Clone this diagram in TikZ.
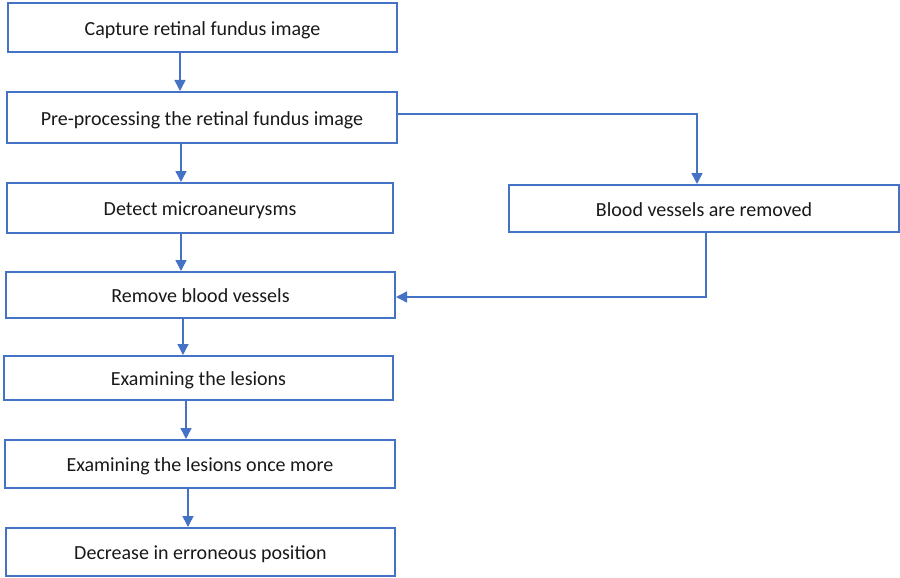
\documentclass[tikz,border=0pt]{standalone}
\usepackage{fontspec}
\setmainfont{Carlito}
\usetikzlibrary{arrows.meta,calc}
\definecolor{bl}{HTML}{4472C4}
\newcommand{\lowtxt}[1]{\raisebox{-2pt}{#1}}
\tikzset{
  box/.style={draw=bl, line width=2pt, rectangle, inner sep=0pt, text depth=0pt, font=\fontsize{20}{24}\selectfont, text=black!90},
  arr/.style={draw=bl, line width=1.5pt, -{Triangle[length=11pt,width=11pt]}},
}
\begin{document}
\begin{tikzpicture}[x=1pt,y=-1pt]
\useasboundingbox[fill=white] (0,0) rectangle (900,578);
\node[box, minimum width=389pt, minimum height=49pt] (b1) at (202.5,27.5) {\lowtxt{Capture retinal fundus image}};
\node[box, minimum width=390pt, minimum height=51pt] (b2) at (202,117.5) {\lowtxt{Pre-processing the retinal fundus image}};
\node[box, minimum width=386pt, minimum height=50pt] (b3) at (200,208) {\lowtxt{Detect microaneurysms}};
\node[box, minimum width=389pt, minimum height=46pt] (b4) at (200.5,295) {\lowtxt{Remove blood vessels}};
\node[box, minimum width=389pt, minimum height=44pt] (b5) at (198.5,378) {\lowtxt{Examining the lesions}};
\node[box, minimum width=390pt, minimum height=48pt] (b6) at (200,464) {\lowtxt{Examining the lesions once more}};
\node[box, minimum width=389pt, minimum height=48pt] (b7) at (200.5,552) {\lowtxt{Decrease in erroneous position}};
\node[box, minimum width=390pt, minimum height=47pt] (r1) at (704,208.5) {\lowtxt{Blood vessels are removed}};
\coordinate (x1) at (180,0);
\coordinate (x2) at (181,0);
\coordinate (x3) at (181,0);
\coordinate (x4) at (183,0);
\coordinate (x5) at (186,0);
\coordinate (x6) at (188,0);
\coordinate (y2) at (0,114);
\coordinate (xr) at (697,0);
\coordinate (xr2) at (706,0);
\coordinate (y4) at (0,297);
\draw[arr] (b1.south -| x1) -- (b2.north -| x1);
\draw[arr] (b2.south -| x2) -- (b3.north -| x2);
\draw[arr] (b3.south -| x3) -- (b4.north -| x3);
\draw[arr] (b4.south -| x4) -- (b5.north -| x4);
\draw[arr] (b5.south -| x5) -- (b6.north -| x5);
\draw[arr] (b6.south -| x6) -- (b7.north -| x6);
\draw[arr] (b2.east |- y2) -| (r1.north -| xr);
\draw[arr] (r1.south -| xr2) |- (b4.east |- y4);
\end{tikzpicture}
\end{document}
